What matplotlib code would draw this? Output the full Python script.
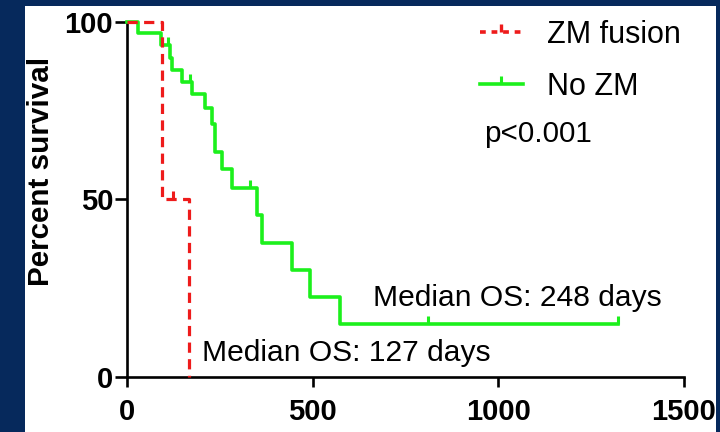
import numpy as np
import matplotlib.pyplot as plt
from matplotlib.lines import Line2D
from matplotlib.patches import Rectangle

plt.rcParams['font.family'] = ['Liberation Sans', 'DejaVu Sans']

# Kaplan-Meier steps (days, percent survival)
no_zm_days = [0, 30, 92, 116, 120, 147, 174, 211, 230, 237, 255, 282, 349, 363, 444, 493, 574, 1323]
no_zm_surv = [100, 96.8, 93.5, 89.8, 86.5, 83.2, 79.7, 75.7, 71.4, 63.5, 58.7, 53.1, 45.6, 37.8, 30.1, 22.4, 14.9, 14.9]
no_zm_censor = [111, 170, 330, 811, 1323]

zm_days = [0, 95, 168]
zm_surv = [100, 50, 0]
zm_censor = [124]

x_ticks = [0, 500, 1000, 1500]
y_ticks = [0, 50, 100]

GREEN = '#1cf01c'
RED = '#ee1b1b'
NAVY = '#06295c'


def surv_at(days, surv, t):
    idx = np.searchsorted(days, t, side='right') - 1
    return np.asarray(surv)[idx]


fig = plt.figure(figsize=(7.2, 4.32), dpi=100, facecolor=NAVY)
fig.patches.append(Rectangle((25 / 720, 0), (716 - 25) / 720, (432 - 6) / 432,
                             transform=fig.transFigure, facecolor='white',
                             edgecolor='none', zorder=-10))

ax = fig.add_axes([127 / 720, 55 / 432, (684 - 127) / 720, (377 - 22) / 432])
ax.set_facecolor('none')

ax.plot(no_zm_days, no_zm_surv, drawstyle='steps-post', color=GREEN,
        lw=2.6, clip_on=False, zorder=3)
ax.plot(no_zm_censor, surv_at(no_zm_days, no_zm_surv, no_zm_censor),
        ls='none', marker=2, ms=6, mew=2.2, color=GREEN, clip_on=False, zorder=3)

ax.plot(zm_days, zm_surv, drawstyle='steps-post', color=RED, lw=2.3,
        dashes=(3.2, 2.0), clip_on=False, zorder=4)
ax.plot(zm_censor, surv_at(zm_days, zm_surv, zm_censor),
        ls='none', marker=2, ms=6, mew=2.2, color=RED, clip_on=False, zorder=4)

ax.set_xlim(0, 1500)
ax.set_ylim(0, 100)
ax.set_xticks(x_ticks)
ax.set_yticks(y_ticks)
for side in ('top', 'right'):
    ax.spines[side].set_visible(False)
for side in ('left', 'bottom'):
    ax.spines[side].set_linewidth(1.9)
ax.tick_params(axis='both', direction='out', width=1.9, labelsize=21)
ax.tick_params(axis='x', length=7, pad=8)
ax.tick_params(axis='y', length=8.5, pad=1.5)
for lab in ax.get_xticklabels() + ax.get_yticklabels():
    lab.set_fontweight('bold')

fig.text(41 / 720, (432 - 171) / 432, 'Percent survival', rotation=90,
         ha='center', va='center', fontsize=21.3, fontweight='bold')

ax.text(662, 22.3, 'Median OS: 248 days', fontsize=21.6, va='center', ha='left')
ax.text(202, 6.8, 'Median OS: 127 days', fontsize=21.6, va='center', ha='left')

handles = [
    Line2D([], [], color=RED, lw=2.6, dashes=(1.6, 1.6), marker=2, ms=6, mew=2.4),
    Line2D([], [], color=GREEN, lw=2.6, marker=2, ms=6, mew=2.2),
]
ax.legend(handles, ['ZM fusion', 'No ZM'], loc='upper left',
          bbox_to_anchor=(480 / 720, (432 - 20) / 432), bbox_transform=fig.transFigure,
          frameon=False, fontsize=22, handlelength=1.4, handletextpad=0.8,
          labelspacing=0.72, borderpad=0, borderaxespad=0)
fig.text(484 / 720, (432 - 134) / 432, 'p<0.001', fontsize=21.3, va='center', ha='left')

fig.savefig('out.png', dpi=100, facecolor=NAVY)
